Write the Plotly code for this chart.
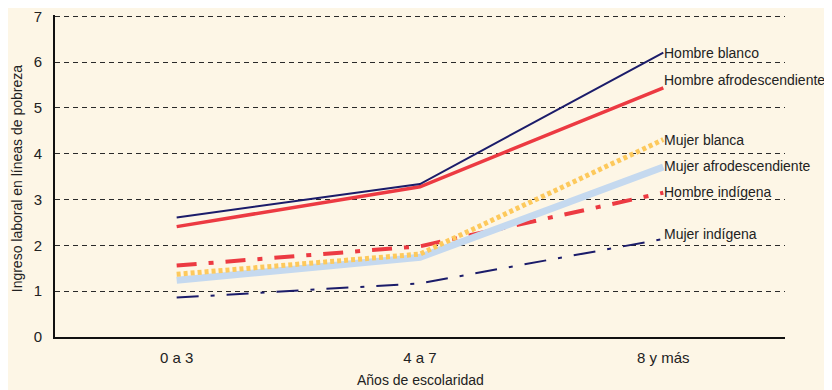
import plotly.graph_objects as go

categories = ["0 a 3", "4 a 7", "8 y más"]

hombre_blanco = [2.61, 3.34, 6.21]
hombre_afro = [2.41, 3.28, 5.44]
mujer_blanca = [1.37, 1.81, 4.31]
mujer_afro = [1.24, 1.74, 3.71]
hombre_indigena = [1.56, 1.98, 3.15]
mujer_indigena = [0.86, 1.17, 2.14]

series_names = ["Hombre blanco", "Hombre afrodescendiente", "Mujer blanca",
                "Mujer afrodescendiente", "Hombre indígena", "Mujer indígena"]
label_y = [6.20, 5.62, 4.31, 3.73, 3.16, 2.24]

y_ticks = [0, 1, 2, 3, 4, 5, 6, 7]

BG = "#fdf6e6"
NAVY = "#1b1c6a"
RED = "#ec3a42"
YELLOW = "#fdc95c"
LBLUE = "#c5d9ef"
FONT = "Liberation Sans, Arial, sans-serif"

styles = [
    dict(color=NAVY, width=2, dash="solid"),
    dict(color=RED, width=3.5, dash="solid"),
    dict(color=YELLOW, width=5, dash="4px,3px"),
    dict(color=LBLUE, width=7, dash="solid"),
    dict(color=RED, width=4, dash="20px,12px,5px,12px"),
    dict(color=NAVY, width=2, dash="22px,12px,4px,12px"),
]
data = [hombre_blanco, hombre_afro, mujer_blanca, mujer_afro, hombre_indigena, mujer_indigena]
order = [5, 4, 3, 2, 1, 0]

fig = go.Figure()
for i in order:
    fig.add_trace(go.Scatter(
        x=categories, y=data[i], mode="lines", name=series_names[i],
        line=styles[i], showlegend=False, hoverinfo="skip"))

for name, ly in zip(series_names, label_y):
    fig.add_annotation(x=2, y=ly, xref="x", yref="y", text=name,
                       showarrow=False, xanchor="left", yanchor="middle", xshift=-1,
                       font=dict(size=14, color="#222222", family=FONT))

# axis titles as annotations (fixed positions)
fig.add_annotation(x=0.5, y=-0.1335, xref="paper", yref="paper",
                   text="Años de escolaridad", showarrow=False,
                   xanchor="center", yanchor="middle",
                   font=dict(size=14, color="#222222", family=FONT))
fig.add_annotation(x=-0.052, y=0.49, xref="paper", yref="paper",
                   text="Ingreso laboral en líneas de pobreza", showarrow=False,
                   textangle=-90, xanchor="center", yanchor="middle",
                   font=dict(size=14, color="#222222", family=FONT))

# the page adds an 8px body margin, so the figure is drawn at (8, 8)
fig.update_layout(
    width=824, height=382,
    margin=dict(l=47, r=47, t=7, b=53, autoexpand=False),
    paper_bgcolor=BG, plot_bgcolor=BG,
    font=dict(family=FONT, size=14, color="#222222"),
)
fig.update_xaxes(
    type="category", range=[-0.5, 2.5], showgrid=False, automargin=False,
    showline=True, linecolor="#111111", linewidth=2, ticks="",
    tickfont=dict(size=15), ticklabelstandoff=6,
)
fig.update_yaxes(
    range=[0, 7.03], tickvals=y_ticks, showgrid=True, gridcolor="#2a2a2a",
    griddash="5px,4px", gridwidth=1, zeroline=False, automargin=False,
    showline=True, linecolor="#111111", linewidth=2, ticks="",
    tickfont=dict(size=15), ticklabelstandoff=8, ticklabeloverflow="allow",
)

fig.write_html("out.html")
